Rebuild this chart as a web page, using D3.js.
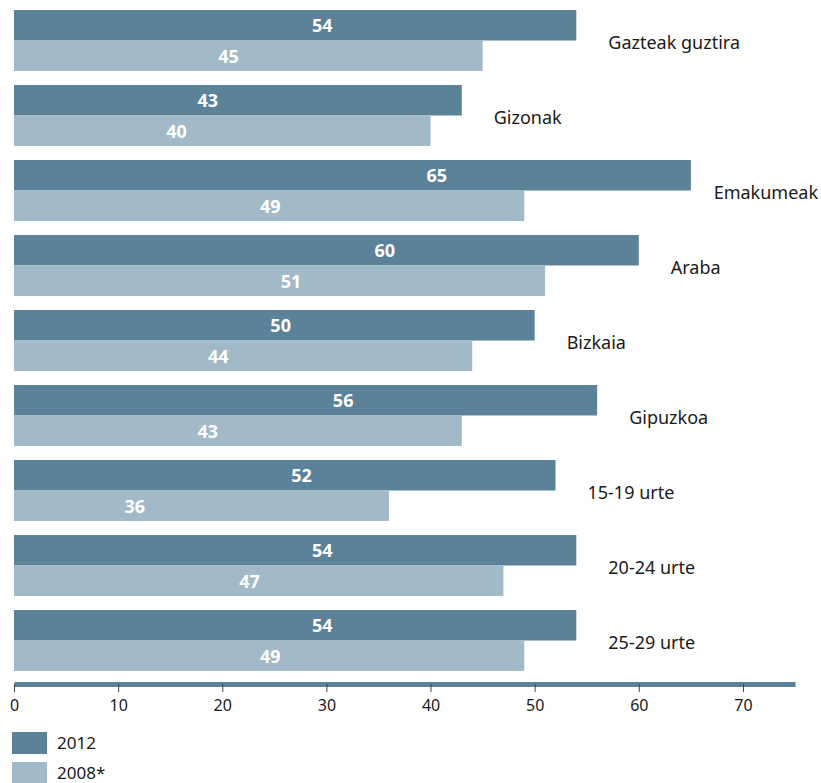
<!DOCTYPE html>
<html>
<head>
<meta charset="utf-8">
<script src="https://cdn.jsdelivr.net/npm/d3@7/dist/d3.min.js"></script>
<style>
  html, body { margin: 0; padding: 0; background: #fff; }
  svg { display: block; }
  text { font-family: "Noto Sans", "Open Sans", sans-serif; }
</style>
</head>
<body>
<svg id="chart" width="821" height="783"></svg>
<script>
const categories = ["Gazteak guztira", "Gizonak", "Emakumeak", "Araba", "Bizkaia", "Gipuzkoa", "15-19 urte", "20-24 urte", "25-29 urte"];
const values2012 = [54, 43, 65, 60, 50, 56, 52, 54, 54];
const values2008 = [45, 40, 49, 51, 44, 43, 36, 47, 49];
const seriesNames = ["2012", "2008*"];
const xTickValues = [0, 10, 20, 30, 40, 50, 60, 70];

const colors = { "2012": "#5b8299", "2008*": "#a2b9c7" };
const W = 821, H = 783;
const svg = d3.select("#chart");

const x = d3.scaleLinear().domain([0, 75]).range([14, 795]);
const y = d3.scaleBand().domain(categories).range([3, 678]).paddingInner(0.187).paddingOuter(0.0935);
const ySub = d3.scaleBand().domain(seriesNames).range([0, y.bandwidth()]);

const rows = categories.map((c, i) => ({
  category: c,
  values: [
    { series: "2012", value: values2012[i] },
    { series: "2008*", value: values2008[i] }
  ]
}));

const g = svg.append("g");
const groups = g.selectAll("g.grp").data(rows).join("g")
  .attr("class", "grp")
  .attr("transform", d => `translate(0,${y(d.category)})`);

groups.selectAll("rect").data(d => d.values).join("rect")
  .attr("x", x(0))
  .attr("y", d => ySub(d.series))
  .attr("width", d => x(d.value) - x(0))
  .attr("height", ySub.bandwidth())
  .attr("fill", d => colors[d.series]);

groups.selectAll("text.val").data(d => d.values).join("text")
  .attr("class", "val")
  .attr("x", d => x(d.value) - 254)
  .attr("y", d => ySub(d.series) + ySub.bandwidth() / 2 + 7)
  .attr("text-anchor", "middle")
  .attr("fill", "#fff")
  .attr("font-weight", 700)
  .attr("font-size", 18)
  .text(d => d.value);

groups.append("text")
  .attr("class", "cat")
  .attr("y", y.bandwidth() / 2 + 9)
  .attr("fill", "#1a1a1a")
  .attr("font-size", 18)
  .text(d => d.category)
  .each(function(d) {
    const w = this.getComputedTextLength();
    const px = Math.min(x(d.values[0].value) + 32, W - w - 3);
    d3.select(this).attr("x", px);
  });

// axis
const axis = d3.axisBottom(x).tickValues(xTickValues).tickSize(8).tickSizeOuter(0).tickPadding(8);
const ax = svg.append("g").attr("transform", "translate(0,684)").call(axis);
ax.select(".domain").attr("stroke", "#5b8299").attr("stroke-width", 5);
ax.selectAll(".tick line").attr("stroke", "#444");
ax.selectAll(".tick text").attr("fill", "#1a1a1a").attr("font-size", 16)
  .attr("font-family", "\"Noto Sans\", sans-serif");

// legend
const legend = svg.append("g").attr("transform", "translate(12,732)");
const li = legend.selectAll("g").data(seriesNames).join("g")
  .attr("transform", (d, i) => `translate(0,${i * 30})`);
li.append("rect").attr("width", 35).attr("height", 22).attr("fill", d => colors[d]);
li.append("text").attr("x", 45).attr("y", 17).attr("font-size", 17).attr("fill", "#1a1a1a").text(d => d);
</script>
</body>
</html>
